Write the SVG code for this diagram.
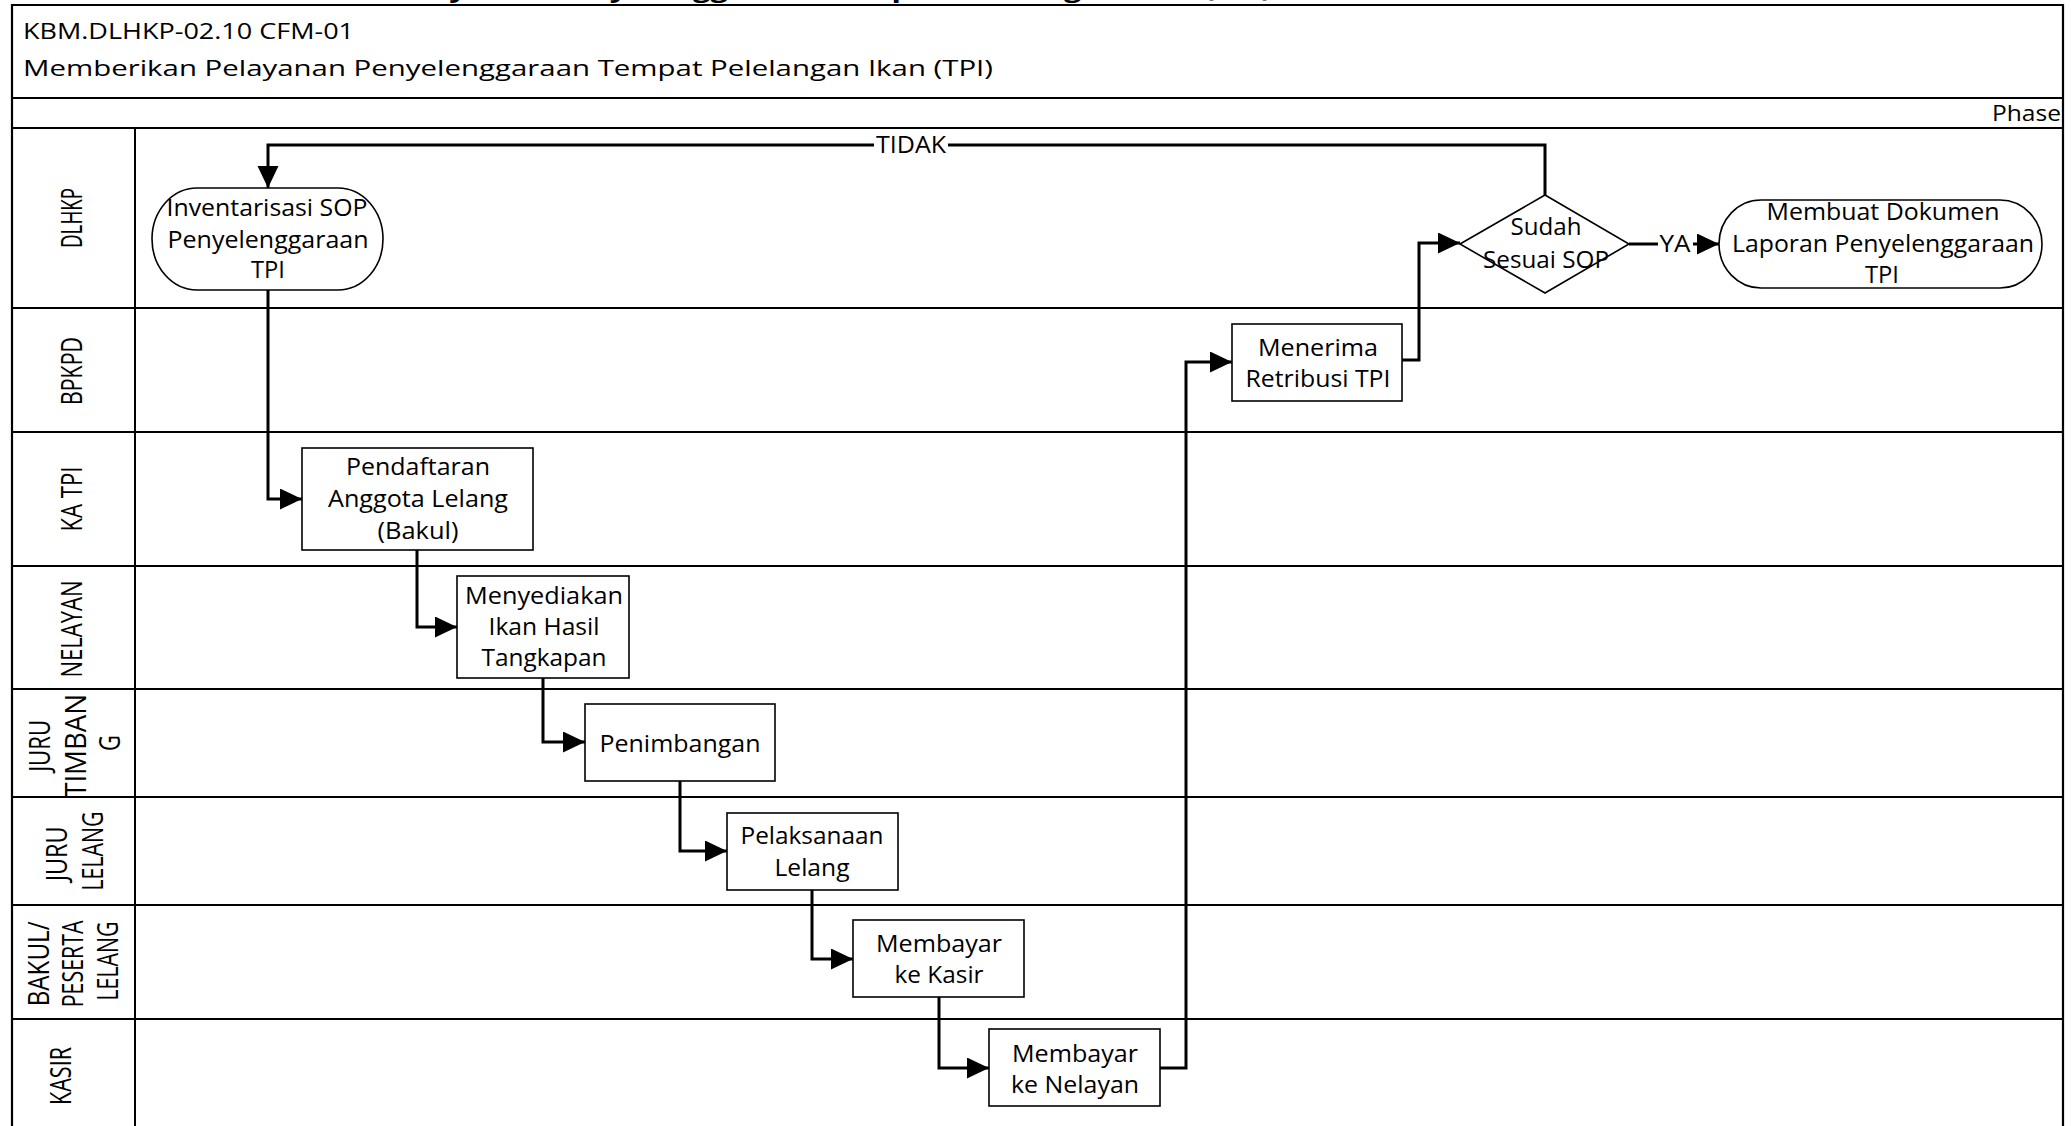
<svg xmlns="http://www.w3.org/2000/svg" width="2071" height="1126" viewBox="0 0 2071 1126">
  <style>
    text { font-family: "Open Sans", "Noto Sans", "Liberation Sans", sans-serif; fill: #000; }
    .title { font-size: 22px; }
    .node-text { font-size: 23px; text-anchor: middle; }
    .lane-text { font-size: 22px; text-anchor: middle; }
    .frame { fill: none; stroke: #000; stroke-width: 2.2; }
    .lane { fill: none; stroke: #000; stroke-width: 2; }
    .box { fill: #fff; stroke: #000; stroke-width: 1.6; }
    .conn { fill: none; stroke: #000; stroke-width: 3; stroke-linejoin: miter; }
    .label-bg { fill: #fff; }
  </style>
  <defs>
    <marker id="arrow" markerUnits="userSpaceOnUse" markerWidth="24" markerHeight="22" refX="22" refY="10.5" orient="auto">
      <path d="M0,0 L22,10.5 L0,21 Z" fill="#000"/>
    </marker>
  </defs>

  <rect width="2071" height="1126" fill="#fff"/>

  <!-- page heading, mostly above the sheet -->
  <text x="180" y="-3" font-size="24" font-weight="bold" textLength="1092" lengthAdjust="spacingAndGlyphs">Memberikan Pelayanan Penyelenggaraan Tempat Pelelangan Ikan (TPI)</text>

  <!-- sheet frame, header and swimlanes -->
  <g id="frame">
    <path class="frame" d="M12,1130 V5 H2063 V1130"/>
    <line class="frame" x1="12" y1="98" x2="2063" y2="98"/>
    <line class="frame" x1="12" y1="128" x2="2063" y2="128"/>
    <line class="lane" x1="135" y1="128" x2="135" y2="1130"/>
    <line class="lane" x1="12" y1="308" x2="2063" y2="308"/>
    <line class="lane" x1="12" y1="432" x2="2063" y2="432"/>
    <line class="lane" x1="12" y1="566" x2="2063" y2="566"/>
    <line class="lane" x1="12" y1="689" x2="2063" y2="689"/>
    <line class="lane" x1="12" y1="797" x2="2063" y2="797"/>
    <line class="lane" x1="12" y1="905" x2="2063" y2="905"/>
    <line class="lane" x1="12" y1="1019" x2="2063" y2="1019"/>
  </g>

  <g id="header">
    <text class="title" x="23" y="39" textLength="331" lengthAdjust="spacingAndGlyphs">KBM.DLHKP-02.10 CFM-01</text>
    <text class="title" x="23" y="76" textLength="970" lengthAdjust="spacingAndGlyphs">Memberikan Pelayanan Penyelenggaraan Tempat Pelelangan Ikan (TPI)</text>
    <text class="title" x="2061" y="121" text-anchor="end" font-size="21" textLength="69" lengthAdjust="spacingAndGlyphs">Phase</text>
  </g>

  <!-- lane names, turned upright and widened like the rest of the sheet -->
  <g id="lane-labels">
    <text class="lane-text" transform="translate(72,218) rotate(-90) scale(1,1.3)" x="0" y="8" textLength="60" lengthAdjust="spacingAndGlyphs">DLHKP</text>
    <text class="lane-text" transform="translate(72,371) rotate(-90) scale(1,1.3)" x="0" y="8" textLength="68" lengthAdjust="spacingAndGlyphs">BPKPD</text>
    <text class="lane-text" transform="translate(72,499) rotate(-90) scale(1,1.3)" x="0" y="8" textLength="65" lengthAdjust="spacingAndGlyphs">KA TPI</text>
    <text class="lane-text" transform="translate(72,629) rotate(-90) scale(1,1.3)" x="0" y="8" textLength="97" lengthAdjust="spacingAndGlyphs">NELAYAN</text>
    <text class="lane-text" transform="translate(76,743) rotate(-90) scale(1,1.3)">
      <tspan x="0" y="-19.7" textLength="52" lengthAdjust="spacingAndGlyphs">JURU</tspan>
      <tspan x="0" y="8" textLength="104" lengthAdjust="spacingAndGlyphs">TIMBAN</tspan>
      <tspan x="0" y="34">G</tspan>
    </text>
    <text class="lane-text" transform="translate(75,851) rotate(-90) scale(1,1.3)">
      <tspan x="0" y="-5.8" textLength="55" lengthAdjust="spacingAndGlyphs">JURU</tspan>
      <tspan x="0" y="21.8" textLength="79" lengthAdjust="spacingAndGlyphs">LELANG</tspan>
    </text>
    <text class="lane-text" transform="translate(73,961) rotate(-90) scale(1,1.3)">
      <tspan x="0" y="-18.8" textLength="85" lengthAdjust="spacingAndGlyphs">BAKUL/</tspan>
      <tspan x="0" y="8" textLength="87" lengthAdjust="spacingAndGlyphs">PESERTA</tspan>
      <tspan x="0" y="34.9" textLength="79" lengthAdjust="spacingAndGlyphs">LELANG</tspan>
    </text>
    <text class="lane-text" transform="translate(61,1076) rotate(-90) scale(1,1.3)" x="0" y="8" textLength="58" lengthAdjust="spacingAndGlyphs">KASIR</text>
  </g>

  <!-- connectors -->
  <g id="connectors">
    <path class="conn" d="M268,290 V499 H302" marker-end="url(#arrow)"/>
    <path class="conn" d="M417,550 V627 H457" marker-end="url(#arrow)"/>
    <path class="conn" d="M543,678 V742 H585" marker-end="url(#arrow)"/>
    <path class="conn" d="M680,781 V851 H727" marker-end="url(#arrow)"/>
    <path class="conn" d="M812,890 V959 H853" marker-end="url(#arrow)"/>
    <path class="conn" d="M939,997 V1068 H989" marker-end="url(#arrow)"/>
    <path class="conn" d="M1160,1068 H1186 V362 H1232" marker-end="url(#arrow)"/>
    <path class="conn" d="M1402,360 H1419 V243 H1460" marker-end="url(#arrow)"/>
    <path class="conn" d="M1629,244 H1719" marker-end="url(#arrow)"/>
    <path class="conn" d="M1545,195 V145 H268 V188" marker-end="url(#arrow)"/>
    <rect class="label-bg" x="874" y="133" width="74" height="24"/>
    <text class="node-text" x="911" y="153" textLength="70" lengthAdjust="spacingAndGlyphs">TIDAK</text>
    <rect class="label-bg" x="1658" y="233" width="35" height="23"/>
    <text class="node-text" x="1675" y="252" textLength="31" lengthAdjust="spacingAndGlyphs">YA</text>
  </g>

  <!-- process steps -->
  <g id="inventarisasi-sop">
    <rect class="box" x="152" y="188" width="231" height="102" rx="45" ry="51"/>
    <text class="node-text" x="267" y="216" textLength="201" lengthAdjust="spacingAndGlyphs">Inventarisasi SOP</text>
    <text class="node-text" x="268" y="248" textLength="201" lengthAdjust="spacingAndGlyphs">Penyelenggaraan</text>
    <text class="node-text" x="268" y="278" textLength="34" lengthAdjust="spacingAndGlyphs">TPI</text>
  </g>

  <g id="pendaftaran-anggota">
    <rect class="box" x="302" y="448" width="231" height="102"/>
    <text class="node-text" x="418" y="475" textLength="144" lengthAdjust="spacingAndGlyphs">Pendaftaran</text>
    <text class="node-text" x="418" y="507" textLength="180" lengthAdjust="spacingAndGlyphs">Anggota Lelang</text>
    <text class="node-text" x="418" y="539" textLength="81" lengthAdjust="spacingAndGlyphs">(Bakul)</text>
  </g>

  <g id="menyediakan-ikan">
    <rect class="box" x="457" y="576" width="172" height="102"/>
    <text class="node-text" x="544" y="604" textLength="158" lengthAdjust="spacingAndGlyphs">Menyediakan</text>
    <text class="node-text" x="544" y="635" textLength="111" lengthAdjust="spacingAndGlyphs">Ikan Hasil</text>
    <text class="node-text" x="544" y="666" textLength="125" lengthAdjust="spacingAndGlyphs">Tangkapan</text>
  </g>

  <g id="penimbangan">
    <rect class="box" x="585" y="704" width="190" height="77"/>
    <text class="node-text" x="680" y="752" textLength="161" lengthAdjust="spacingAndGlyphs">Penimbangan</text>
  </g>

  <g id="pelaksanaan-lelang">
    <rect class="box" x="727" y="813" width="171" height="77"/>
    <text class="node-text" x="812" y="844" textLength="143" lengthAdjust="spacingAndGlyphs">Pelaksanaan</text>
    <text class="node-text" x="812" y="876" textLength="75" lengthAdjust="spacingAndGlyphs">Lelang</text>
  </g>

  <g id="membayar-ke-kasir">
    <rect class="box" x="853" y="920" width="171" height="77"/>
    <text class="node-text" x="939" y="952" textLength="126" lengthAdjust="spacingAndGlyphs">Membayar</text>
    <text class="node-text" x="939" y="983" textLength="89" lengthAdjust="spacingAndGlyphs">ke Kasir</text>
  </g>

  <g id="membayar-ke-nelayan">
    <rect class="box" x="989" y="1029" width="171" height="77"/>
    <text class="node-text" x="1075" y="1062" textLength="126" lengthAdjust="spacingAndGlyphs">Membayar</text>
    <text class="node-text" x="1075" y="1093" textLength="128" lengthAdjust="spacingAndGlyphs">ke Nelayan</text>
  </g>

  <g id="menerima-retribusi">
    <rect class="box" x="1232" y="324" width="170" height="77"/>
    <text class="node-text" x="1318" y="356" textLength="120" lengthAdjust="spacingAndGlyphs">Menerima</text>
    <text class="node-text" x="1318" y="387" textLength="145" lengthAdjust="spacingAndGlyphs">Retribusi TPI</text>
  </g>

  <g id="sudah-sesuai-sop">
    <polygon class="box" points="1460,244 1545,195 1629,244 1545,293"/>
    <text class="node-text" x="1546" y="235" textLength="71" lengthAdjust="spacingAndGlyphs">Sudah</text>
    <text class="node-text" x="1546" y="268" textLength="126" lengthAdjust="spacingAndGlyphs">Sesuai SOP</text>
  </g>

  <g id="membuat-dokumen-laporan">
    <rect class="box" x="1719" y="200" width="323" height="88" rx="42" ry="44"/>
    <text class="node-text" x="1883" y="220" textLength="233" lengthAdjust="spacingAndGlyphs">Membuat Dokumen</text>
    <text class="node-text" x="1883" y="252" textLength="302" lengthAdjust="spacingAndGlyphs">Laporan Penyelenggaraan</text>
    <text class="node-text" x="1882" y="283" textLength="34" lengthAdjust="spacingAndGlyphs">TPI</text>
  </g>
</svg>
